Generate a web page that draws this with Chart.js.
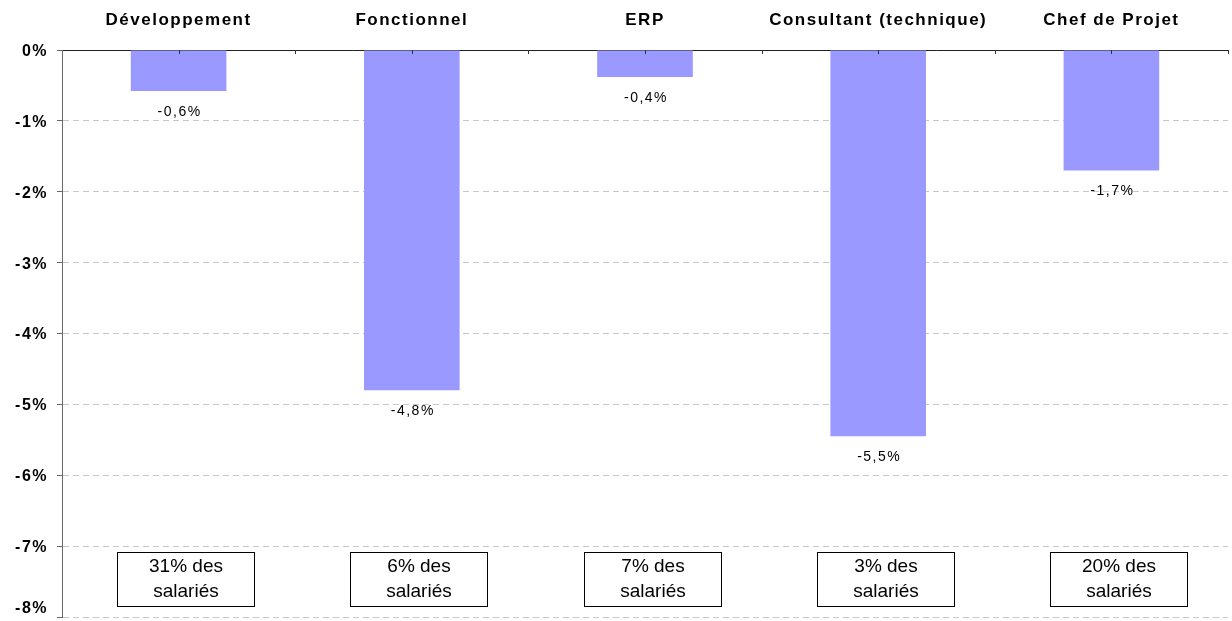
<!DOCTYPE html>
<html>
<head>
<meta charset="utf-8">
<script src="https://cdn.jsdelivr.net/npm/chart.js@4/dist/chart.umd.min.js"></script>
<style>
html,body{margin:0;padding:0;background:#fff;}
canvas{display:block;}
</style>
</head>
<body>
<canvas id="c" width="1232" height="621"></canvas>
<script>
const categories = ['Développement', 'Fonctionnel', 'ERP', 'Consultant (technique)', 'Chef de Projet'];
const values = [-0.58, -4.8, -0.38, -5.45, -1.7];
const valueLabels = ['-0,6%', '-4,8%', '-0,4%', '-5,5%', '-1,7%'];
const shareLabels = ['31% des', '6% des', '7% des', '3% des', '20% des'];
const shareSecondLine = 'salariés';
const yMin = -8, yMax = 0, yStep = 1;

const FONT = "'Liberation Sans', Arial, sans-serif";

const spacingPlugin = {
  id: 'spacing',
  beforeDraw(chart) { chart.ctx.letterSpacing = '1.5px'; }
};

const valueLabelPlugin = {
  id: 'valueLabels',
  afterDatasetsDraw(chart) {
    const ctx = chart.ctx;
    const meta = chart.getDatasetMeta(0);
    ctx.save();
    ctx.letterSpacing = '1.5px';
    ctx.font = '14px ' + FONT;
    ctx.fillStyle = '#000';
    ctx.textAlign = 'center';
    ctx.textBaseline = 'middle';
    meta.data.forEach((bar, i) => {
      ctx.fillText(valueLabels[i], bar.x + 1, bar.y + 21);
    });
    ctx.restore();
  }
};

const boxPlugin = {
  id: 'shareBoxes',
  afterDraw(chart) {
    const ctx = chart.ctx;
    const xs = chart.scales.x, ys = chart.scales.y;
    const top = Math.round(ys.getPixelForValue(-7.08)) + 0.5;
    const bottom = Math.round(ys.getPixelForValue(-7.84)) + 0.5;
    const w = 137;
    ctx.save();
    ctx.letterSpacing = '0px';
    categories.forEach((c, i) => {
      const cx = xs.getPixelForValue(i) + 7;
      const left = Math.round(cx - w / 2) + 0.5;
      ctx.fillStyle = '#fff';
      ctx.fillRect(left, top, w, bottom - top);
      ctx.strokeStyle = '#000';
      ctx.lineWidth = 1;
      ctx.strokeRect(left, top, w, bottom - top);
      ctx.fillStyle = '#000';
      ctx.font = '19px ' + FONT;
      ctx.textAlign = 'center';
      ctx.textBaseline = 'middle';
      ctx.fillText(shareLabels[i], left + w / 2, top + 14);
      ctx.fillText(shareSecondLine, left + w / 2, top + 39);
    });
    // inner tick marks on the top axis
    const half = (xs.getPixelForValue(1) - xs.getPixelForValue(0)) / 2;
    ctx.strokeStyle = '#333';
    ctx.lineWidth = 1;
    ctx.beginPath();
    categories.forEach((c, i) => {
      const x = Math.round(xs.getPixelForValue(i)) + 0.5;
      ctx.moveTo(x, xs.bottom); ctx.lineTo(x, xs.bottom + 4);
      const xb = Math.round(xs.getPixelForValue(i) + half) + 0.5;
      ctx.moveTo(xb, xs.bottom); ctx.lineTo(xb, xs.bottom + 4);
    });
    ctx.stroke();
    ctx.restore();
  }
};

new Chart(document.getElementById('c'), {
  type: 'bar',
  data: {
    labels: categories,
    datasets: [{
      data: values,
      backgroundColor: '#9999FF',
      borderWidth: 0,
      barPercentage: 0.41,
      categoryPercentage: 1
    }]
  },
  options: {
    responsive: false,
    animation: false,
    devicePixelRatio: 1,
    layout: { padding: { left: 0, right: 4, top: 0, bottom: 4 } },
    plugins: { legend: { display: false }, tooltip: { enabled: false } },
    scales: {
      x: {
        position: 'top',
        grid: { display: false, drawTicks: false },
        border: { display: true, color: '#222', width: 1 },
        ticks: { color: '#000', font: { family: FONT, size: 17, weight: 'bold' }, padding: 19, maxRotation: 0, autoSkip: false },
        afterFit(s) { s.height = 50; s.paddingLeft = 0; s.paddingRight = 0; }
      },
      y: {
        min: yMin, max: yMax,
        grid: {
          color: (c) => (c.tick && c.tick.value === 0) ? 'rgba(0,0,0,0)' : '#c8c8c8',
          lineWidth: 1,
          drawTicks: true,
          tickLength: 5,
          tickColor: '#666'
        },
        border: { display: true, color: '#6a6a6a', width: 1, dash: [6, 4] },
        ticks: {
          stepSize: yStep,
          color: '#000',
          font: { family: FONT, size: 16, weight: 'bold' },
          padding: 9,
          labelOffset: 1.5,
          callback: (v) => v === yMin ? [v + '%', ''] : v + '%'
        },
        afterFit(s) { s.width = 62; s.paddingTop = 0; s.paddingBottom = 0; }
      }
    }
  },
  plugins: [spacingPlugin, valueLabelPlugin, boxPlugin]
});
</script>
</body>
</html>
